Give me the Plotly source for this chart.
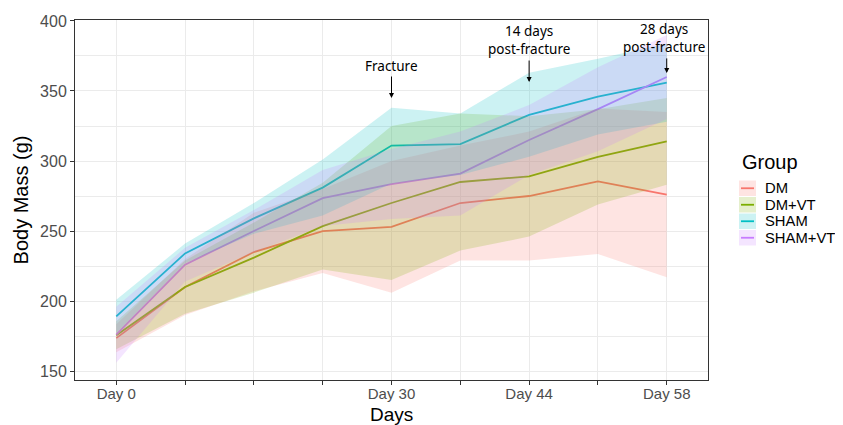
import plotly.graph_objects as go

# ---- data ----
day_labels = ["Day 0", "", "", "", "Day 30", "", "Day 44", "", "Day 58"]
groups = ["DM", "DM+VT", "SHAM", "SHAM+VT"]

dm_mean = [173.5, 210, 235, 250, 253, 270, 275, 285.5, 276]
dm_sd = [10, 20, 28, 30, 47, 41, 46, 52, 59]

dmvt_mean = [175.5, 210, 231, 253.5, 270, 285, 289, 303, 314]
dmvt_sd = [10, 19, 25, 31, 55, 49, 43, 34, 31]

sham_mean = [189, 234, 259, 281, 311, 312, 333, 346, 356]
sham_sd = [12, 7, 11, 20, 27, 22, 30, 27, 28]

shamvt_mean = [176, 226, 250, 273.5, 283.5, 291, 315, 337, 360]
shamvt_sd = [20, 12, 15, 20, 25, 30, 25, 30, 30]

means = [dm_mean, dmvt_mean, sham_mean, shamvt_mean]
sds = [dm_sd, dmvt_sd, sham_sd, shamvt_sd]
line_colors = ["#F8766D", "#7CAE00", "#00BFC4", "#C77CFF"]
fill_colors = ["rgba(248,118,109,0.2)", "rgba(124,174,0,0.2)",
               "rgba(0,191,196,0.2)", "rgba(199,124,255,0.2)"]

x = list(range(len(day_labels)))

fig = go.Figure()

# lines first (ribbons drawn on top as in reference)
for g, m, c in zip(groups, means, line_colors):
    fig.add_trace(go.Scatter(x=x, y=m, mode="lines", name=g,
                             line=dict(color=c, width=1.8), showlegend=False))

for g, m, s, fc in zip(groups, means, sds, fill_colors):
    lo = [a - b for a, b in zip(m, s)]
    hi = [a + b for a, b in zip(m, s)]
    fig.add_trace(go.Scatter(x=x, y=lo, mode="lines", line=dict(width=0),
                             showlegend=False, hoverinfo="skip"))
    fig.add_trace(go.Scatter(x=x, y=hi, mode="lines", line=dict(width=0),
                             fill="tonexty", fillcolor=fc,
                             showlegend=False, hoverinfo="skip"))

# ---- annotations ----
ann_font = dict(family="Noto Sans", size=13.5, color="black")
annotations = [
    dict(x=4, y=367.9, text="Fracture", showarrow=False, font=ann_font,
         xref="x", yref="y"),
    dict(x=6, y=386.4, text="14 days<br>post-fracture", showarrow=False,
         font=ann_font, xref="x", yref="y"),
    dict(x=8, y=387.5, text="28 days<br>post-fracture", showarrow=False,
         font=ann_font, xref="x", yref="y", xshift=-3),
    dict(x=4, y=345, text="", showarrow=True, ax=0, ay=-23, arrowhead=2,
         arrowsize=1, arrowwidth=1, arrowcolor="black", xref="x", yref="y"),
    dict(x=6, y=356.4, text="", showarrow=True, ax=0, ay=-23, arrowhead=2,
         arrowsize=1, arrowwidth=1, arrowcolor="black", xref="x", yref="y"),
    dict(x=8, y=362.9, text="", showarrow=True, ax=0, ay=-16, arrowhead=2,
         arrowsize=1, arrowwidth=1, arrowcolor="black", xref="x", yref="y"),
]

# ---- geometry (page has an 8px body offset) ----
OFF = 8
W, H = 827, 417
L, T = 67, 12
pw, ph = 633, 360
R = W - L - pw
B = H - T - ph


def px2paper_x(px):
    return (px - OFF - L) / pw


def px2paper_y(py):
    return (H - B - (py - OFF)) / ph


# x-axis title placed explicitly
annotations.append(dict(x=0.5, y=px2paper_y(414), xref="paper", yref="paper",
                        text="Days", showarrow=False, xanchor="center",
                        yanchor="middle",
                        font=dict(family="Liberation Sans", size=19,
                                  color="black")))

# ---- manual legend (ggplot style keys) ----
annotations.append(dict(x=px2paper_x(740), y=px2paper_y(162), xref="paper",
                        yref="paper", text="Group", showarrow=False,
                        xanchor="left", yanchor="middle",
                        font=dict(family="Liberation Sans", size=20,
                                  color="black")))
shapes = []
key_top = 180
for i, (g, lc, fc) in enumerate(zip(groups, line_colors, fill_colors)):
    y0 = key_top + i * 16.5
    y1 = y0 + 16.5
    shapes.append(dict(type="rect", xref="paper", yref="paper",
                       x0=px2paper_x(739), x1=px2paper_x(756),
                       y0=px2paper_y(y1 - 0.5), y1=px2paper_y(y0 + 0.5),
                       fillcolor=fc, line=dict(width=0)))
    shapes.append(dict(type="line", xref="paper", yref="paper",
                       x0=px2paper_x(741), x1=px2paper_x(754),
                       y0=px2paper_y((y0 + y1) / 2), y1=px2paper_y((y0 + y1) / 2),
                       line=dict(color=lc, width=1.8)))
    annotations.append(dict(x=px2paper_x(763), y=px2paper_y((y0 + y1) / 2),
                            xref="paper", yref="paper", text=g,
                            showarrow=False, xanchor="left", yanchor="middle",
                            font=dict(family="Liberation Sans", size=14.8,
                                      color="black")))

fig.update_layout(
    width=W, height=H,
    margin=dict(l=L, r=R, t=T, b=B, autoexpand=False),
    plot_bgcolor="white", paper_bgcolor="white",
    font=dict(family="Liberation Sans", color="#4D4D4D"),
    showlegend=False,
    annotations=annotations,
    shapes=shapes,
    xaxis=dict(
        range=[-0.6, 8.6], tickmode="array", tickvals=x, ticktext=day_labels,
        showgrid=True, gridcolor="#EBEBEB", gridwidth=1.2,
        showline=True, mirror=True, linecolor="#333333", linewidth=1,
        ticks="outside", ticklen=4, tickcolor="#333333",
        ticklabelstandoff=-4,
        tickfont=dict(size=15, color="#4D4D4D"),
        zeroline=False, automargin=False,
    ),
    yaxis=dict(
        range=[143.6, 400.7], tickvals=[150, 200, 250, 300, 350, 400],
        showgrid=True, gridcolor="#EBEBEB", gridwidth=1.2,
        minor=dict(tickvals=[175, 225, 275, 325, 375], showgrid=True,
                   gridcolor="#EBEBEB", gridwidth=0.6, ticks=""),
        showline=True, mirror=True, linecolor="#333333", linewidth=1,
        ticks="outside", ticklen=4, tickcolor="#333333",
        tickfont=dict(size=16, color="#4D4D4D"),
        title=dict(text="Body Mass (g)", font=dict(size=20, color="black"),
                   standoff=6),
        zeroline=False, automargin=False,
    ),
)

fig.write_html("out.html")
